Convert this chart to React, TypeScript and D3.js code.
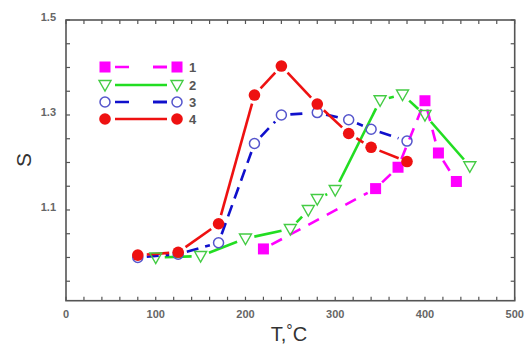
import React from "react";
import * as d3 from "d3";

const W = 528;
const H = 347;

const t1 = [220, 345, 370, 400, 415, 435];
const s1 = [1.018, 1.145, 1.19, 1.33, 1.22, 1.16];
const t2 = [100, 150, 200, 250, 270, 280, 300, 350, 375, 400, 450];
const s2 = [1.0, 1.003, 1.04, 1.06, 1.1, 1.123, 1.142, 1.331, 1.343, 1.3, 1.192];
const t3 = [80, 125, 170, 210, 240, 280, 315, 340, 380];
const s3 = [1.0, 1.007, 1.031, 1.24, 1.3, 1.305, 1.29, 1.27, 1.245];
const t4 = [80, 125, 170, 210, 240, 280, 315, 340, 380];
const s4 = [1.005, 1.011, 1.071, 1.342, 1.403, 1.323, 1.261, 1.232, 1.202];

const xTicks = [0, 100, 200, 300, 400, 500];
const yTicks = [1.1, 1.3, 1.5];
const legendLabels = ["1", "2", "3", "4"];

const x = d3.scaleLinear().domain([0, 500]).range([66, 514.7]);
const y = d3.scaleLinear().domain([0.909, 1.5]).range([300.7, 20]);

type Series = {
  t: number[];
  s: number[];
  color: string;
  dash: string | undefined;
  marker: "square" | "tri" | "circleOpen" | "circleFill";
};

const series: Series[] = [
  { t: t1, s: s1, color: "#ff00ff", dash: "12,9", marker: "square" },
  { t: t2, s: s2, color: "#22dd22", dash: undefined, marker: "tri" },
  { t: t3, s: s3, color: "#1010cc", dash: "12,7", marker: "circleOpen" },
  { t: t4, s: s4, color: "#ee1111", dash: undefined, marker: "circleFill" },
];

const markerColor = (s: Series) => (s.marker === "circleOpen" ? "#5555cc" : s.marker === "tri" ? "#44cc44" : s.color);

function Marker({ cx, cy, s }: { cx: number; cy: number; s: Series }) {
  const c = markerColor(s);
  if (s.marker === "square")
    return <rect x={cx - 5.5} y={cy - 5.5} width={11} height={11} fill={c} />;
  if (s.marker === "tri")
    return (
      <path
        d={`M${cx - 6},${cy - 4.5}L${cx + 6},${cy - 4.5}L${cx},${cy + 6}Z`}
        fill="none"
        stroke={c}
        strokeWidth={1.4}
      />
    );
  if (s.marker === "circleOpen")
    return <circle cx={cx} cy={cy} r={5} fill="none" stroke={c} strokeWidth={1.5} />;
  return <circle cx={cx} cy={cy} r={5.8} fill={c} />;
}

function gapSeg(x1: number, y1: number, x2: number, y2: number, g: number) {
  const dx = x2 - x1;
  const dy = y2 - y1;
  const L = Math.hypot(dx, dy);
  if (L <= 2 * g) return null;
  const ux = dx / L;
  const uy = dy / L;
  return [x1 + ux * g, y1 + uy * g, x2 - ux * g, y2 - uy * g];
}

export default function App() {
  const frameColor = "#555";
  const xMinor = d3.range(0, 501, 20);
  const yMinor = d3.range(0.95, 1.5001, 0.05);
  const x0 = x.range()[0];
  const x1 = x.range()[1];
  const y0 = y.range()[0];
  const y1 = y.range()[1];

  const legendY = [67, 85, 102, 119];
  const lxL = 105;
  const lxR = 177;

  return (
    <svg
      width={W}
      height={H}
      style={{ position: "absolute", left: 0, top: 0, background: "#fff" }}
      fontFamily="Liberation Sans, Arial, sans-serif"
    >
      <rect x={0} y={0} width={W} height={H} fill="#fff" />
      {xMinor.map((v) => (
        <g key={"xt" + v}>
          <line x1={x(v)} x2={x(v)} y1={y0} y2={y0 - 4} stroke={frameColor} strokeWidth={1.2} />
          <line x1={x(v)} x2={x(v)} y1={y1} y2={y1 + 4} stroke={frameColor} strokeWidth={1.2} />
        </g>
      ))}
      {yMinor.map((v) => (
        <g key={"yt" + v}>
          <line x1={x0} x2={x0 + 4} y1={y(v)} y2={y(v)} stroke={frameColor} strokeWidth={1.2} />
          <line x1={x1} x2={x1 - 4} y1={y(v)} y2={y(v)} stroke={frameColor} strokeWidth={1.2} />
        </g>
      ))}
      <rect
        x={x0}
        y={y1}
        width={x1 - x0}
        height={y0 - y1}
        fill="none"
        stroke={frameColor}
        strokeWidth={1.6}
      />
      {xTicks.map((v) => (
        <text key={"xl" + v} x={x(v)} y={318} textAnchor="middle" fontSize={11} fontWeight="bold" fill="#666">
          {v}
        </text>
      ))}
      {yTicks.map((v) => (
        <text key={"yl" + v} x={56} y={y(v) + 1} textAnchor="end" fontSize={11} fontWeight="bold" fill="#666">
          {v.toFixed(1)}
        </text>
      ))}
      <text
        transform={`translate(31,160) rotate(-90)`}
        textAnchor="middle"
        fontSize={21}
        fill="#333"
      >
        S
      </text>
      <text x={289} y={341} textAnchor="middle" fontSize={20} fill="#333">
        T,
        <tspan dy={-5} fontSize={16}>°</tspan>
        <tspan dy={5}>C</tspan>
      </text>

      {series.map((s, i) => (
        <g key={"ln" + i}>
          {s.t.slice(1).map((tv, j) => {
            const seg = gapSeg(x(s.t[j]), y(s.s[j]), x(tv), y(s.s[j + 1]), 9);
            if (!seg) return null;
            return (
              <line
                key={j}
                x1={seg[0]}
                y1={seg[1]}
                x2={seg[2]}
                y2={seg[3]}
                stroke={s.color}
                strokeWidth={2.6}
                strokeDasharray={s.dash}
              />
            );
          })}
        </g>
      ))}
      {series.map((s, i) => (
        <g key={"mk" + i}>
          {s.t.map((tv, j) => (
            <Marker key={j} cx={x(tv)} cy={y(s.s[j])} s={s} />
          ))}
        </g>
      ))}

      {series.map((s, i) => (
        <g key={"lg" + i}>
          <line
            x1={lxL + 10}
            x2={lxR - 10}
            y1={legendY[i]}
            y2={legendY[i]}
            stroke={s.color}
            strokeWidth={2.6}
            strokeDasharray={s.dash ? "14,24" : undefined}
          />
          {s.dash ? (
            <line
              x1={lxR - 24}
              x2={lxR - 10}
              y1={legendY[i]}
              y2={legendY[i]}
              stroke={s.color}
              strokeWidth={2.6}
            />
          ) : null}
          <Marker cx={lxL} cy={legendY[i]} s={s} />
          <Marker cx={lxR} cy={legendY[i]} s={s} />
          <text x={189} y={legendY[i] + 5} fontSize={13} fontWeight="bold" fill="#555">
            {legendLabels[i]}
          </text>
        </g>
      ))}
    </svg>
  );
}
